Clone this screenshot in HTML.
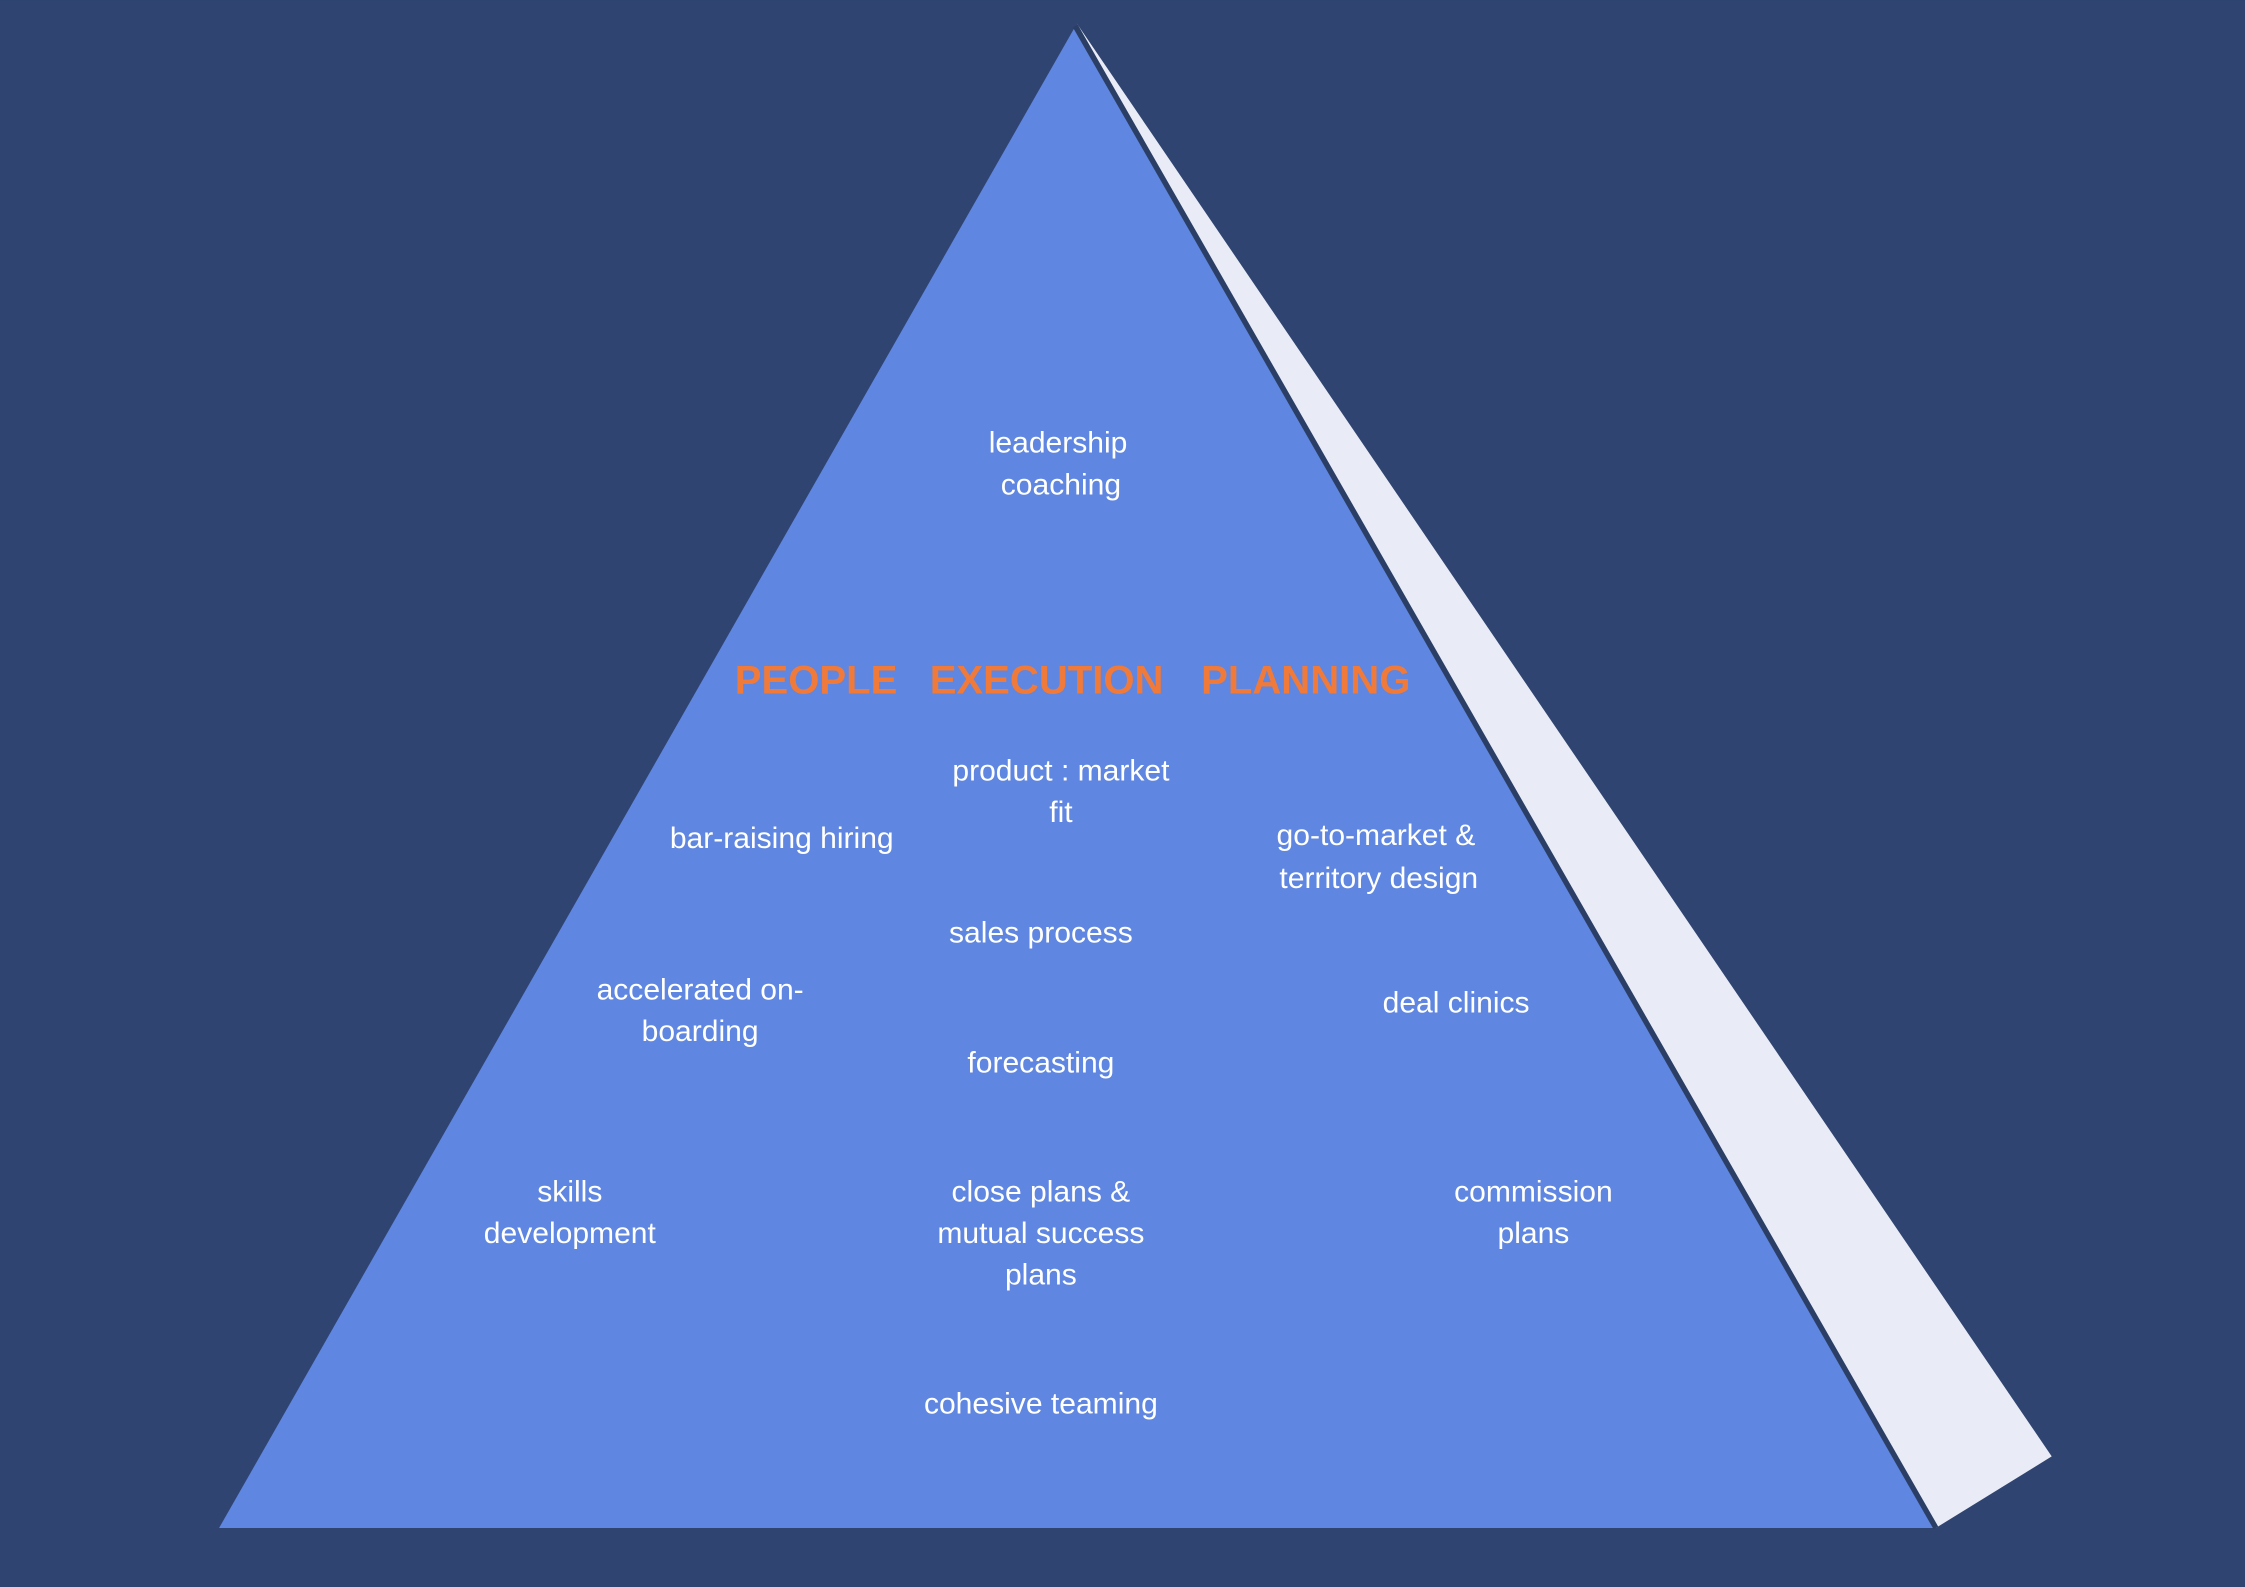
<!DOCTYPE html>
<html><head><meta charset="utf-8"><style>
html,body{margin:0;padding:0;background:#2f4470;}
svg{display:block;}
text{font-family:"Liberation Sans",sans-serif;}
.w{fill:#ffffff;font-size:21px;text-anchor:middle;}
.o{fill:#f07a3a;font-size:28px;font-weight:bold;text-anchor:middle;}
</style></head><body>
<svg width="2245" height="1587" viewBox="0 0 1568 1108" xmlns="http://www.w3.org/2000/svg">
<rect width="1568" height="1108" fill="#2f4470"/>
<polygon points="752,16 1433,1017 1352,1067" fill="#e9ecf6"/>
<line x1="751" y1="18" x2="1352" y2="1067" stroke="#2b3f66" stroke-width="4"/>
<polygon points="750,20 1350,1067 153,1067" fill="#5f86e0"/>
<text class="w" x="739" y="316">leadership</text>
<text class="w" x="741" y="345">coaching</text>
<text class="o" x="570" y="484">PEOPLE</text>
<text class="o" x="731" y="484">EXECUTION</text>
<text class="o" x="912" y="484">PLANNING</text>
<text class="w" x="741" y="545">product : market</text>
<text class="w" x="741" y="574">fit</text>
<text class="w" x="546" y="592">bar-raising hiring</text>
<text class="w" x="961" y="590">go-to-market &amp;</text>
<text class="w" x="963" y="620">territory design</text>
<text class="w" x="727" y="658">sales process</text>
<text class="w" x="489" y="698">accelerated on-</text>
<text class="w" x="489" y="727">boarding</text>
<text class="w" x="1017" y="707">deal clinics</text>
<text class="w" x="727" y="749">forecasting</text>
<text class="w" x="398" y="839">skills</text>
<text class="w" x="398" y="868">development</text>
<text class="w" x="727" y="839">close plans &amp;</text>
<text class="w" x="727" y="868">mutual success</text>
<text class="w" x="727" y="897">plans</text>
<text class="w" x="1071" y="839">commission</text>
<text class="w" x="1071" y="868">plans</text>
<text class="w" x="727" y="987">cohesive teaming</text>
</svg>
</body></html>
